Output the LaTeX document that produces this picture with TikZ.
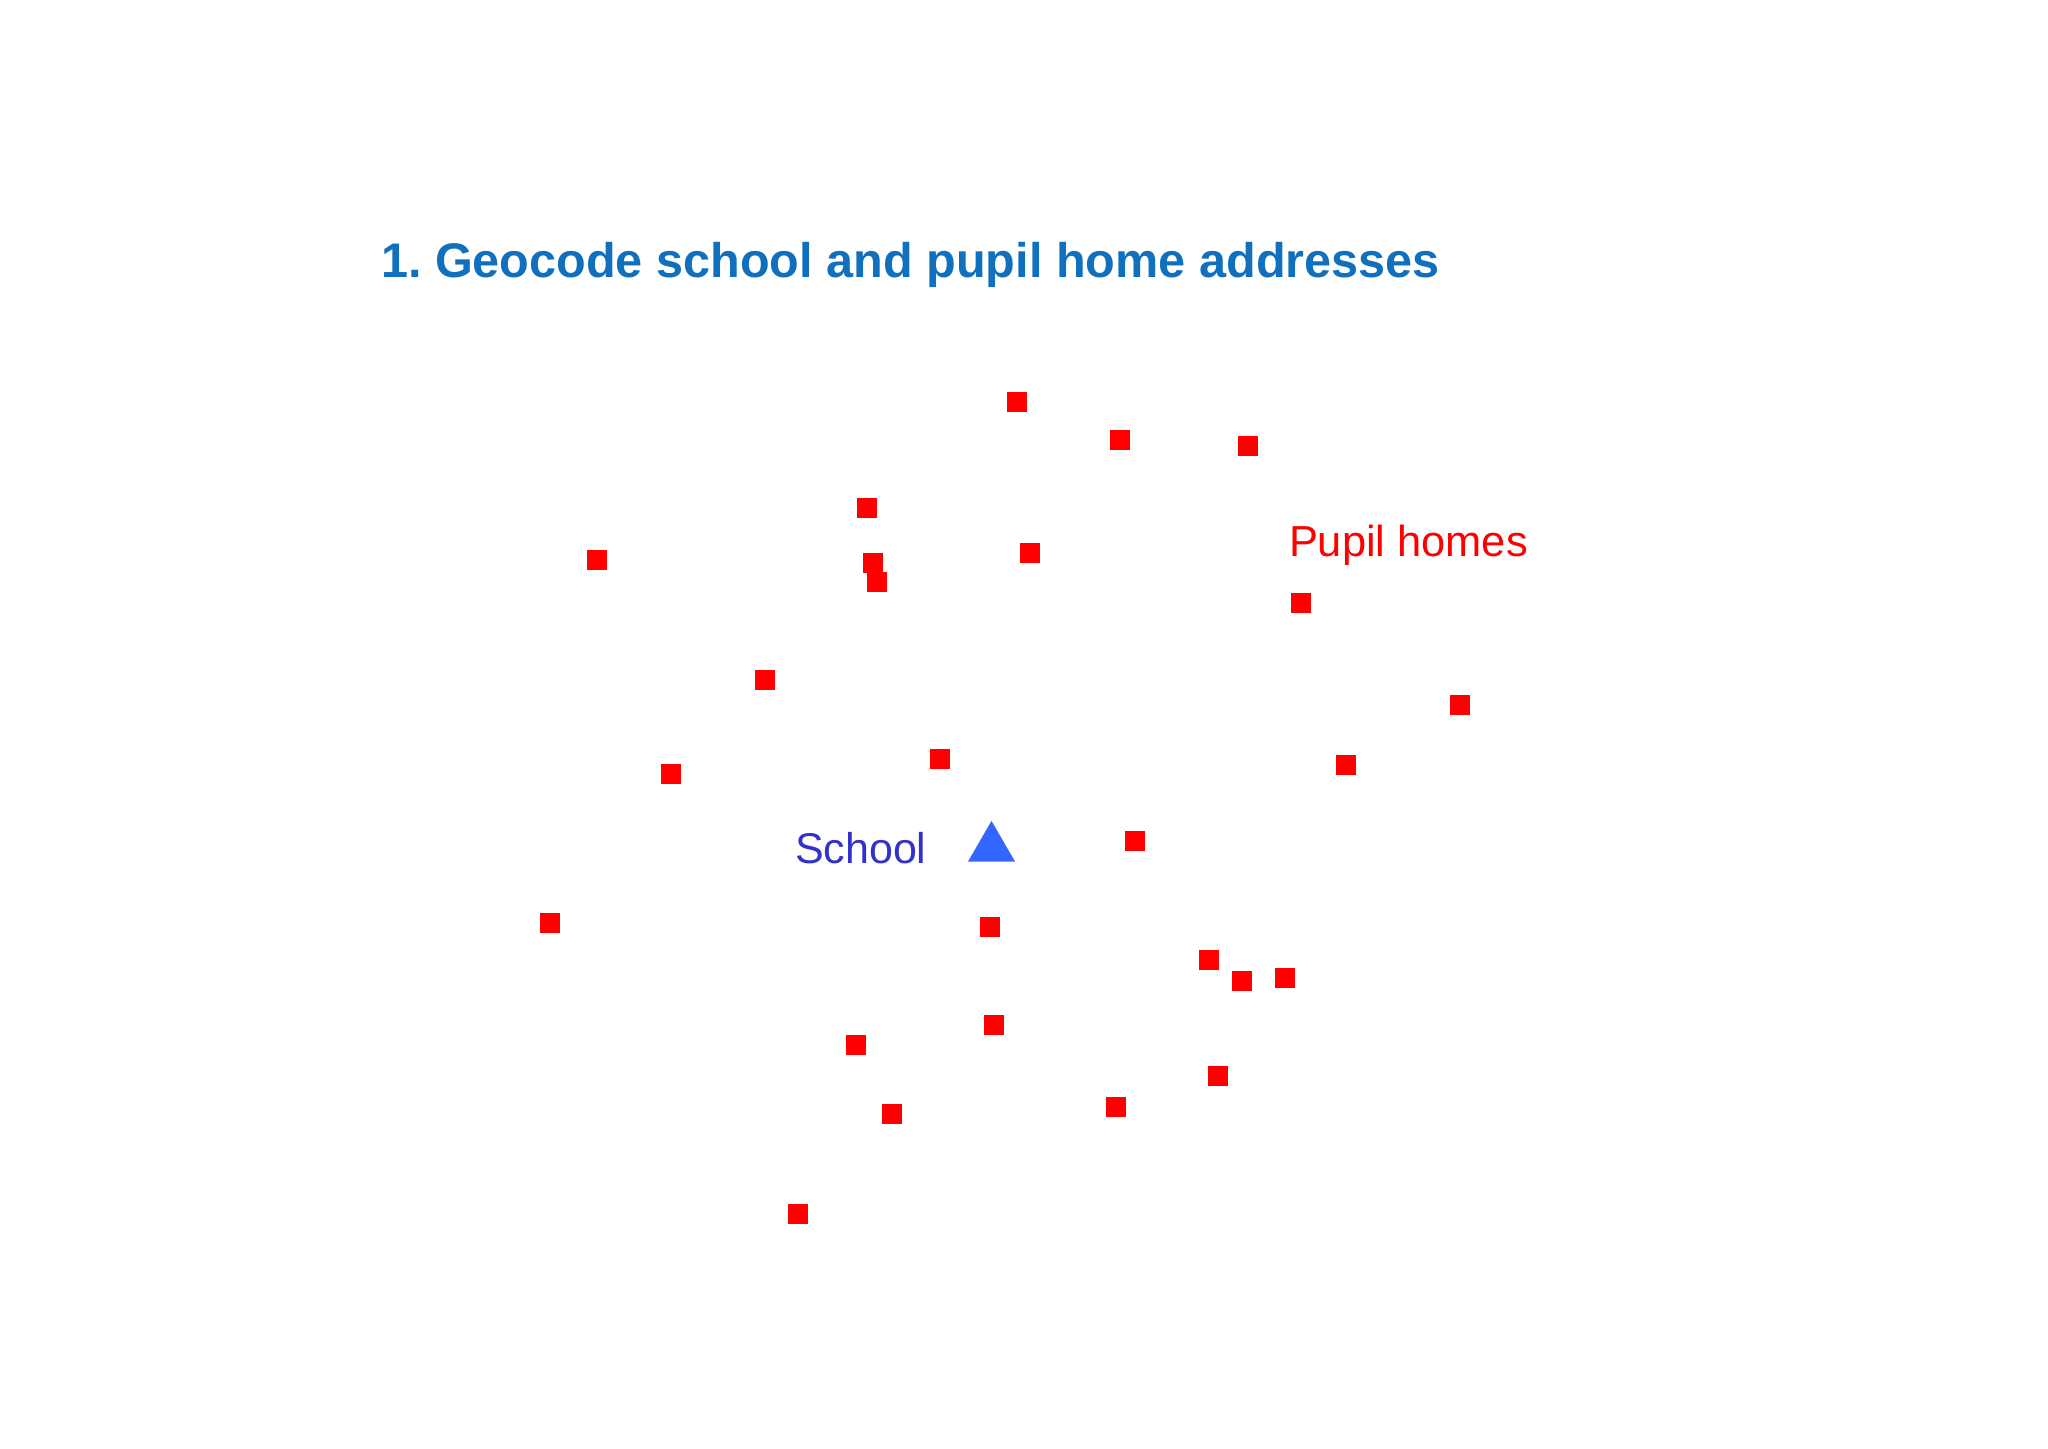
\documentclass[tikz,border=0pt]{standalone}
\usepackage{fontspec}
\setmainfont{Liberation Sans}
\usetikzlibrary{shapes.geometric}
\frenchspacing
\definecolor{titleblue}{RGB}{16,112,190}
\definecolor{schooltext}{RGB}{50,50,200}
\definecolor{schoolmark}{RGB}{51,102,255}
\definecolor{homered}{RGB}{255,0,0}
\tikzset{
  home/.style={rectangle, fill=homered, minimum size=10pt, inner sep=0pt, outer sep=0pt},
  label text/.style={anchor=base west, inner sep=0pt, outer sep=0pt},
  schoolmarker/.style={regular polygon, regular polygon sides=3, fill=schoolmark, minimum size=27.15pt, inner sep=0pt, outer sep=0pt}
}
\begin{document}
\begin{tikzpicture}[x=0.5pt, y=-0.5pt]
\useasboundingbox (0,0) rectangle (2048,1448);
\node[label text, text=titleblue, font=\fontsize{24.3pt}{28pt}\selectfont\bfseries] (title) at (381,277) {1. Geocode school and pupil home addresses};
\node[label text, text=homered, font=\fontsize{21.7pt}{25pt}\selectfont] (homeslabel) at (1289,556) {Pupil homes};
\node[label text, text=schooltext, font=\fontsize{21.5pt}{25pt}\selectfont] (schoollabel) at (795,863) {School};
\node[schoolmarker] (school) at (991.5,848) {};
\begin{scope}[shift={(1.3,1.3)}]
\node[home] (h1) at (1016,401) {};
\node[home] (h2) at (1119,439) {};
\node[home] (h3) at (1247,445) {};
\node[home] (h4) at (866,507) {};
\node[home] (h5) at (596,559) {};
\node[home] (h6) at (872,562) {};
\node[home] (h7) at (876,581) {};
\node[home] (h8) at (1029,552) {};
\node[home] (h9) at (1300,602) {};
\node[home] (h10) at (764,679) {};
\node[home] (h11) at (1459,704) {};
\node[home] (h12) at (939,758) {};
\node[home] (h13) at (670,773) {};
\node[home] (h14) at (1345,764) {};
\node[home] (h15) at (1134,840) {};
\node[home] (h16) at (549,922) {};
\node[home] (h17) at (989,926) {};
\node[home] (h18) at (1208,959) {};
\node[home] (h19) at (1241,980) {};
\node[home] (h20) at (1284,977) {};
\node[home] (h21) at (993,1024) {};
\node[home] (h22) at (855,1044) {};
\node[home] (h23) at (1217,1075) {};
\node[home] (h24) at (891,1113) {};
\node[home] (h25) at (1115,1106) {};
\node[home] (h26) at (797,1213) {};
\end{scope}
\end{tikzpicture}
\end{document}
